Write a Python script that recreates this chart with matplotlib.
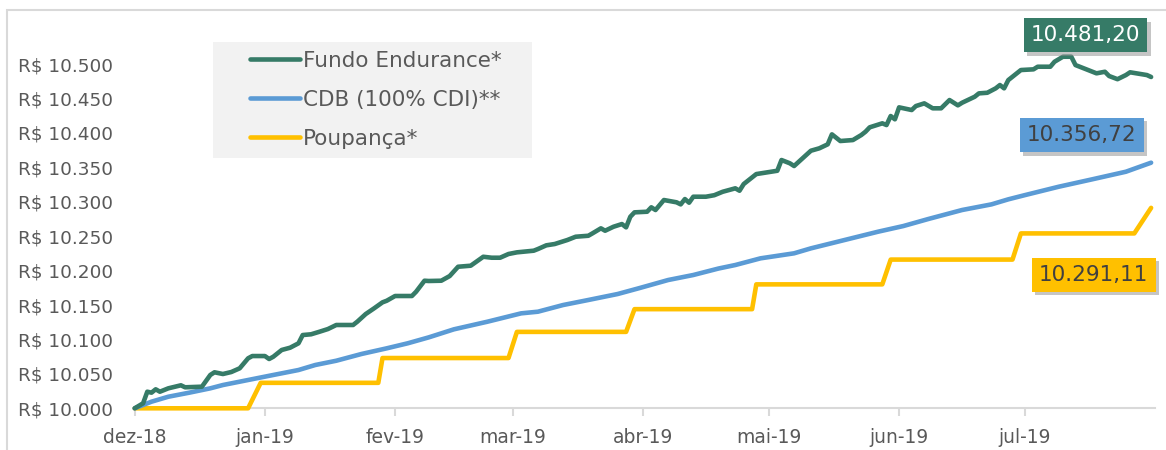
import numpy as np
import pandas as pd
import matplotlib
matplotlib.use("Agg")
import matplotlib.pyplot as plt
import matplotlib.patheffects as pe
from matplotlib.patches import Rectangle

# series: days counted from 2018-12-01, values in R$
START = pd.Timestamp("2018-12-01")

fundo_days = [0, 2, 3, 4, 5, 6, 8, 11, 12, 16, 18, 19, 21, 23, 25, 27, 28, 31, 32, 33,
              35, 37, 39, 40, 42, 44, 46, 48, 52, 53, 55, 57, 59, 60, 62, 66, 67, 69, 70, 73,
              75, 77, 80, 81, 83, 85, 87, 89, 91, 95, 96, 98, 100, 103, 105, 108, 109, 111, 112, 114,
              116, 117, 118, 119, 122, 123, 124, 126, 129, 130, 131, 132, 133, 136, 138, 140, 143, 144, 145, 148,
              150, 153, 154, 156, 157, 159, 161, 163, 165, 166, 168, 171, 173, 174, 175, 178, 179, 180, 181, 182,
              185, 186, 188, 190, 192, 194, 196, 197, 200, 201, 203, 205, 206, 207, 208, 211, 214, 215, 218, 219,
              221, 223, 224, 226, 229, 231, 232, 234, 236, 237, 239, 241, 242]
fundo_vals = [10000.0, 10007.3, 10024.1, 10022.7, 10027.6, 10024.1, 10029.0, 10033.4, 10030.5, 10031.4,
              10048.4, 10052.3, 10049.8, 10052.7, 10058.1, 10072.6, 10075.9, 10075.9, 10071.6, 10074.9,
              10084.7, 10088.0, 10094.4, 10106.4, 10107.5, 10111.2, 10115.1, 10121.0, 10121.0, 10125.8,
              10136.9, 10145.2, 10153.9, 10156.2, 10163.1, 10163.1, 10169.3, 10185.3, 10184.9, 10185.3,
              10192.1, 10205.6, 10207.1, 10211.4, 10220.1, 10218.7, 10218.7, 10224.1, 10226.5, 10228.9,
              10231.3, 10236.7, 10238.6, 10244.4, 10249.2, 10250.6, 10254.1, 10261.4, 10257.9, 10263.7,
              10267.6, 10262.8, 10278.2, 10284.6, 10285.5, 10291.9, 10288.0, 10302.5, 10299.2, 10296.2,
              10303.9, 10298.6, 10307.3, 10307.3, 10309.5, 10314.5, 10319.5, 10316.0, 10325.7, 10340.2,
              10342.1, 10345.0, 10360.6, 10355.8, 10351.9, 10363.0, 10374.1, 10377.6, 10383.4, 10397.9,
              10388.2, 10389.6, 10396.9, 10401.7, 10408.1, 10413.9, 10411.4, 10424.5, 10419.7, 10437.1,
              10433.2, 10439.0, 10442.9, 10435.7, 10435.7, 10447.7, 10440.0, 10443.8, 10452.5, 10457.4,
              10458.3, 10464.7, 10469.5, 10464.7, 10476.7, 10491.3, 10492.3, 10496.1, 10496.1, 10503.3,
              10510.6, 10510.6, 10498.5, 10493.7, 10486.5, 10488.8, 10482.6, 10478.0, 10484.0, 10488.0,
              10486.0, 10484.0, 10481.2]

cdb_days = [0, 4, 8, 13, 18, 21, 27, 33, 39, 43, 48, 54, 60, 65, 70, 76, 84, 92, 96, 102,
            108, 115, 120, 127, 133, 139, 143, 149, 157, 161, 169, 177, 183, 189, 197, 204, 208, 212, 220, 228,
            236, 242]
cdb_vals = [10000.0, 10009.6, 10016.8, 10022.7, 10029.0, 10033.8, 10041.1, 10048.4, 10055.6, 10062.9,
            10069.1, 10078.9, 10087.1, 10094.4, 10103.0, 10114.7, 10125.8, 10137.9, 10140.3, 10150.0,
            10157.3, 10166.0, 10174.3, 10186.3, 10193.6, 10203.0, 10208.1, 10217.8, 10225.1, 10232.3,
            10244.4, 10256.5, 10264.7, 10275.0, 10288.0, 10296.2, 10303.5, 10309.7, 10321.8, 10332.6,
            10343.6, 10356.72]

poup_days = [0, 27, 30, 58, 59, 89, 91, 117, 119, 147, 148, 178, 180, 209, 211, 238, 242]
poup_vals = [10000.0, 10000.0, 10037.0, 10037.0, 10073.0, 10073.0, 10111.0, 10111.0, 10144.0,
             10144.0, 10180.0, 10180.0, 10216.0, 10216.0, 10254.0, 10254.0, 10291.11]

series_names = ["Fundo Endurance*", "CDB (100% CDI)**", "Poupança*"]
end_labels = ["10.481,20", "10.356,72", "10.291,11"]

month_ticks = ["2018-12-01", "2019-01-01", "2019-02-01", "2019-03-01", "2019-04-01",
               "2019-05-01", "2019-06-01", "2019-07-01"]
month_labels = ["dez-18", "jan-19", "fev-19", "mar-19", "abr-19", "mai-19", "jun-19", "jul-19"]

GREEN = "#367b67"
BLUE = "#5b9bd5"
YELLOW = "#ffc000"
GRAY_TXT = "#595959"
AXIS_GRAY = "#d9d9d9"

plt.rcParams["font.family"] = ["DejaVu Sans"]

W, H = 1166, 450
fig = plt.figure(figsize=(W / 100, H / 100), dpi=100)

# chart border (right/bottom edges fall outside the crop)
fig.patches.append(Rectangle((7.3 / W, -0.1), 1.2, 1.1 - 10 / H, transform=fig.transFigure,
                             fill=False, edgecolor=AXIS_GRAY, lw=1.5))

ax = fig.add_axes([134.7 / W, (H - 408.3) / H, (1155.3 - 134.7) / W, (408.3 - 36.5) / H])


def to_dates(days):
    return START + pd.to_timedelta(days, unit="D")


d_f, d_c, d_p = to_dates(fundo_days), to_dates(cdb_days), to_dates(poup_days)

kw = dict(lw=3.3, solid_capstyle="round", solid_joinstyle="round", clip_on=False)
ax.plot(d_p, poup_vals, color=YELLOW, zorder=3, label=series_names[2], **kw)
ax.plot(d_c, cdb_vals, color=BLUE, zorder=4, label=series_names[1], **kw)
ax.plot(d_f, fundo_vals, color=GREEN, zorder=5, label=series_names[0], **kw)

ax.set_xlim(START, pd.Timestamp("2019-08-01"))
ax.set_ylim(10000, 10540)

ax.set_yticks(np.arange(10000, 10501, 50))
ax.set_yticklabels([f"R$ {v:,.0f}".replace(",", ".") for v in np.arange(10000, 10501, 50)])
ax.set_xticks(pd.to_datetime(month_ticks))
ax.set_xticklabels(month_labels)

for s in ["top", "right", "left"]:
    ax.spines[s].set_visible(False)
ax.spines["bottom"].set_color(AXIS_GRAY)
ax.spines["bottom"].set_linewidth(1.5)
ax.tick_params(axis="y", length=0, pad=15.5, labelsize=13.3, labelcolor=GRAY_TXT)
ax.tick_params(axis="x", length=5.5, width=1.5, color=AXIS_GRAY, pad=9,
               labelsize=13.5, labelcolor=GRAY_TXT)
ax.patch.set_alpha(0)

# legend on a light gray panel
fig.patches.append(Rectangle((213 / W, 1 - 158 / H), (532 - 213) / W, (158 - 42) / H,
                             transform=fig.transFigure, facecolor="#f2f2f2", edgecolor="none", zorder=0))
handles, labels = ax.get_legend_handles_labels()
order = [2, 1, 0]
leg = fig.legend([handles[i] for i in order], [labels[i] for i in order],
                 loc="upper left", bbox_to_anchor=(250 / W, 1 - 51 / H), frameon=False,
                 fontsize=15.5, handlelength=2.33, handletextpad=0.14, labelspacing=0.88,
                 borderpad=0, borderaxespad=0)
for t in leg.get_texts():
    t.set_color(GRAY_TXT)

# end-of-series value boxes with a soft drop shadow
boxes = [
    (d_f[-1], fundo_vals[-1], end_labels[0], GREEN, "white", (-47.3, 30.0)),
    (d_c[-1], cdb_vals[-1], end_labels[1], BLUE, "#404040", (-49.9, 19.9)),
    (d_p[-1], poup_vals[-1], end_labels[2], YELLOW, "#404040", (-41.3, -48.2)),
]
for x, y, txt, fc, tc, (dx, dy) in boxes:
    t = ax.annotate(txt, xy=(x, y), xytext=(dx, dy), textcoords="offset points",
                    ha="center", va="center", fontsize=15.5, color=tc, zorder=7,
                    bbox=dict(boxstyle="square,pad=0.33", fc=fc, ec="none"),
                    annotation_clip=False)
    t.get_bbox_patch().set_path_effects([
        pe.SimplePatchShadow(offset=(2.5, -2.5), shadow_rgbFace="#8c8c8c", alpha=0.5),
        pe.Normal(),
    ])

fig.savefig("out.png", dpi=100)
